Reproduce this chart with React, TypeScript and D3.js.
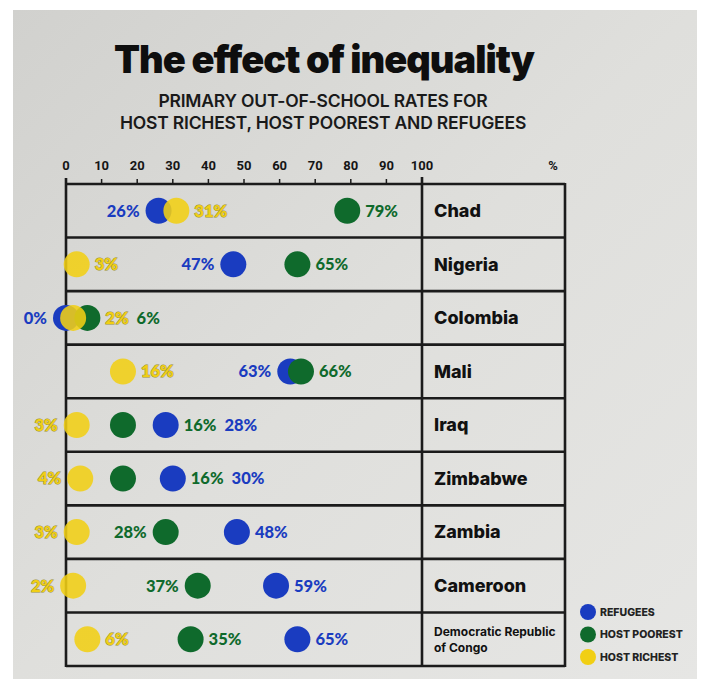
import React, { useEffect, useRef } from 'react';
import * as d3 from 'd3';

// --- data ---
const countries = ['Chad', 'Nigeria', 'Colombia', 'Mali', 'Iraq', 'Zimbabwe', 'Zambia', 'Cameroon', 'Democratic Republic of Congo'];
const refugees = [26, 47, 0, 63, 28, 30, 48, 59, 65];
const hostPoorest = [79, 65, 6, 66, 16, 16, 28, 37, 35];
const hostRichest = [31, 3, 2, 16, 3, 4, 3, 2, 6];
// which side of the dot each value label sits on
const refugeesSide = ['l', 'l', 'l', 'l', 'r', 'r', 'r', 'r', 'r'];
const poorestSide = ['r', 'r', 'r', 'r', 'r', 'r', 'l', 'l', 'r'];
const richestSide = ['r', 'r', 'r', 'r', 'l', 'l', 'l', 'l', 'r'];
const ticks = [0, 10, 20, 30, 40, 50, 60, 70, 80, 90, 100];
const legendItems = ['REFUGEES', 'HOST POOREST', 'HOST RICHEST'];

const BLUE = '#1a3cc0';
const GREEN = '#0f6a2c';
const YELLOW = '#f1cf14';

const App: React.FC = () => {
  const svgRef = useRef<SVGSVGElement>(null);
  const W = 702;
  const H = 679;

  useEffect(() => {
    if (!svgRef.current) return;
    const svg = d3.select(svgRef.current);
    svg.selectAll('*').remove();

    // paper
    const defs = svg.append('defs');
    const grad = defs.append('linearGradient').attr('id', 'paper')
      .attr('x1', 0).attr('y1', 0).attr('x2', 1).attr('y2', 1);
    grad.append('stop').attr('offset', 0).attr('stop-color', '#d1d1ce');
    grad.append('stop').attr('offset', 0.5).attr('stop-color', '#dfdfdc');
    grad.append('stop').attr('offset', 1).attr('stop-color', '#e6e6e4');
    svg.append('rect').attr('width', W).attr('height', H).attr('fill', '#ffffff');
    svg.append('rect').attr('x', 13).attr('y', 10).attr('width', 684).attr('height', 669).attr('fill', 'url(#paper)');

    const x = d3.scaleLinear().domain([0, 100]).range([66, 422]);
    const tableRight = 565;
    const y = d3.scaleBand<string>().domain(countries).range([184, 666]);
    const r = 13;
    const ink = '#1b1b1b';

    // title
    svg.append('text').attr('x', 324).attr('y', 73).attr('text-anchor', 'middle')
      .attr('font-family', 'Inter, sans-serif').attr('font-weight', 900).attr('font-size', 38)
      .attr('letter-spacing', -1).attr('fill', '#0e0e0e').text('The effect of inequality');
    ['PRIMARY OUT-OF-SCHOOL RATES FOR', 'HOST RICHEST, HOST POOREST AND REFUGEES'].forEach((t, i) => {
      svg.append('text').attr('x', 323).attr('y', 107 + i * 22).attr('text-anchor', 'middle')
        .attr('font-family', 'Inter, sans-serif').attr('font-weight', 600).attr('font-size', 17.5)
        .attr('letter-spacing', -0.2).attr('fill', '#1a1a1a').text(t);
    });

    // axis labels and ticks
    const g = svg.append('g');
    g.selectAll('.tl').data(ticks).join('text')
      .attr('x', d => x(d)).attr('y', 170).attr('text-anchor', 'middle')
      .attr('font-family', 'Roboto, sans-serif').attr('font-weight', 700).attr('font-size', 13)
      .attr('fill', '#151515').text(d => d);
    g.append('text').attr('x', 553).attr('y', 170).attr('text-anchor', 'middle')
      .attr('font-family', 'Roboto, sans-serif').attr('font-weight', 700).attr('font-size', 13)
      .attr('fill', '#151515').text('%');
    g.selectAll('.tk').data(ticks.slice(1, -1)).join('line')
      .attr('x1', d => x(d)).attr('x2', d => x(d)).attr('y1', 179).attr('y2', 184)
      .attr('stroke', ink).attr('stroke-width', 1.5);

    // table
    const rows = y.domain();
    const lines = g.append('g').attr('stroke', ink).attr('stroke-width', 2.6).attr('fill', 'none');
    lines.append('line').attr('x1', x(0)).attr('x2', tableRight).attr('y1', y(rows[0])!).attr('y2', y(rows[0])!);
    rows.forEach(c => {
      const yb = y(c)! + y.bandwidth();
      lines.append('line').attr('x1', x(0)).attr('x2', tableRight).attr('y1', yb).attr('y2', yb);
    });
    lines.append('line').attr('x1', x(0)).attr('x2', x(0)).attr('y1', 178).attr('y2', 667);
    lines.append('line').attr('x1', x(100)).attr('x2', x(100)).attr('y1', 177).attr('y2', 667);
    lines.append('line').attr('x1', tableRight).attr('x2', tableRight).attr('y1', 183).attr('y2', 667);

    // country names
    countries.forEach(c => {
      const cy = y(c)! + y.bandwidth() / 2;
      if (c.length > 20) {
        const t = g.append('text').attr('font-family', 'Inter, sans-serif').attr('font-weight', 700)
          .attr('font-size', 12).attr('fill', '#111');
        t.append('tspan').attr('x', 434).attr('y', cy - 3).text('Democratic Republic');
        t.append('tspan').attr('x', 434).attr('y', cy + 13).text('of Congo');
      } else {
        g.append('text').attr('x', 434).attr('y', cy).attr('dy', '0.35em')
          .attr('font-family', 'Inter, sans-serif').attr('font-weight', 800).attr('font-size', 18)
          .attr('fill', '#111').text(c);
      }
    });

    // dots + value labels
    const series = [
      { vals: refugees, side: refugeesSide, color: BLUE, op: 1 },
      { vals: hostPoorest, side: poorestSide, color: GREEN, op: 1 },
      { vals: hostRichest, side: richestSide, color: YELLOW, op: 0.88 },
    ];
    const dotLayer = g.append('g');
    const labelLayer = g.append('g');

    countries.forEach((c, i) => {
      const cy = y(c)! + y.bandwidth() / 2;
      const pts = series.map(s => ({ v: s.vals[i], side: s.side[i], color: s.color, op: s.op }));
      pts.forEach(p => {
        dotLayer.append('circle').attr('cx', x(p.v)).attr('cy', cy).attr('r', r)
          .attr('fill', p.color).attr('fill-opacity', p.op);
      });
      const addLabel = (p: typeof pts[0], lx: number, anchor: string) => {
        const t = labelLayer.append('text').attr('x', lx).attr('y', cy).attr('dy', '0.36em')
          .attr('text-anchor', anchor).attr('font-family', 'Lato, sans-serif').attr('font-weight', 900)
          .attr('font-size', 16.5).attr('fill', p.color).text(`${p.v}%`);
        if (p.color === YELLOW) {
          t.attr('stroke', '#9c9232').attr('stroke-width', 1).attr('paint-order', 'stroke');
        }
        return (t.node() as SVGTextElement).getComputedTextLength();
      };
      pts.filter(p => p.side === 'l').forEach(p => addLabel(p, x(p.v) - r - 6, 'end'));
      let prevEnd = -Infinity;
      pts.filter(p => p.side === 'r').sort((a, b) => a.v - b.v).forEach(p => {
        let start = Math.max(x(p.v) + r + 5, prevEnd + 8);
        const w = p.v >= 10 ? 34 : 24;
        pts.slice().sort((a, b) => a.v - b.v).forEach(o => {
          const left = x(o.v) - r, right = x(o.v) + r;
          if (o !== p && left < start + w && right > start) start = right + 5;
        });
        const len = addLabel(p, start, 'start');
        prevEnd = start + len;
      });
    });

    // legend
    const leg = svg.append('g');
    legendItems.forEach((t, i) => {
      const cy = 612 + i * 22.5;
      leg.append('circle').attr('cx', 588).attr('cy', cy).attr('r', 8)
        .attr('fill', [BLUE, GREEN, YELLOW][i]);
      leg.append('text').attr('x', 600).attr('y', cy).attr('dy', '0.35em')
        .attr('font-family', 'Inter, sans-serif').attr('font-weight', 800).attr('font-size', 10.5)
        .attr('fill', '#222').text(t);
    });
  }, []);

  return (
    <svg ref={svgRef} width={W} height={H} viewBox={`0 0 ${W} ${H}`}
      style={{ position: 'absolute', top: 0, left: 0, display: 'block' }} />
  );
};

export default App;
